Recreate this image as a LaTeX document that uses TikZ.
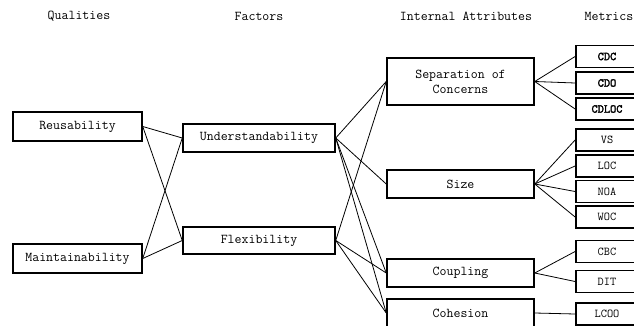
\documentclass[tikz,border=0pt]{standalone}
\usepackage{fontspec}
\newfontfamily\mtbold[FakeBold=2.5]{Latin Modern Mono}
\begin{document}
\begin{tikzpicture}[x=1pt,y=-1pt,
  box/.style={draw,line width=1.5pt,inner sep=0pt,font=\ttfamily\fontsize{13.5}{15}\selectfont,align=center},
  mbox/.style={draw,line width=1.8pt,inner sep=0pt,minimum width=62pt,minimum height=22pt,font=\ttfamily\fontsize{12}{13}\selectfont},
  mboxb/.style={mbox,font=\mtbold\fontsize{12}{13}\selectfont},
  head/.style={font=\ttfamily\fontsize{13.5}{15}\selectfont},
  link/.style={line width=0.8pt}]
\useasboundingbox (0,0) rectangle (634,326);
% headers
\node[head] (hq) at (79,16) {Qualities};
\node[head] (hf) at (259,16) {Factors};
\node[head] (hi) at (466,16) {Internal Attributes};
\node[head] (hm) at (609,16) {Metrics};
% qualities
\node[box,minimum width=129pt,minimum height=29pt] (reu) at (77.5,126.5) {Reusability};
\node[box,minimum width=129pt,minimum height=29pt] (mai) at (77.5,258.5) {Maintainability};
% factors
\node[box,minimum width=152pt,minimum height=28pt] (und) at (259,138) {Understandability};
\node[box,minimum width=152pt,minimum height=27pt] (fle) at (259,240.5) {Flexibility};
% attributes
\node[box,minimum width=147pt,minimum height=47pt] (soc) at (460.5,81.5) {Separation of\\Concerns};
\node[box,minimum width=147pt,minimum height=28pt] (siz) at (460.5,184) {Size};
\node[box,minimum width=147pt,minimum height=28pt] (cou) at (460.5,273) {Coupling};
\node[box,minimum width=147pt,minimum height=28pt] (coh) at (460.5,313) {Cohesion};
% metrics
\node[mboxb] (cdc) at (607,56.5) {CDC};
\node[mboxb] (cdo) at (607,83) {CDO};
\node[mboxb] (cdloc) at (607,109) {CDLOC};
\node[mbox] (vs) at (607,140) {VS};
\node[mbox] (loc) at (607,166) {LOC};
\node[mbox] (noa) at (607,191.5) {NOA};
\node[mbox] (woc) at (607,217) {WOC};
\node[mbox] (cbc) at (607,251.5) {CBC};
\node[mbox] (dit) at (607,281.5) {DIT};
\node[mbox] (lcoo) at (607,314) {LCOO};
% links qualities -> factors
\draw[link] (reu.east) -- (und.west);
\draw[link] (reu.east) -- (fle.west);
\draw[link] (mai.east) -- (und.west);
\draw[link] (mai.east) -- (fle.west);
% factors -> attributes
\draw[link] (und.east) -- (soc.west);
\draw[link] (und.east) -- (siz.west);
\draw[link] (und.east) -- (cou.west);
\draw[link] (und.east) -- (coh.west);
\draw[link] (fle.east) -- (soc.west);
\draw[link] (fle.east) -- (cou.west);
\draw[link] (fle.east) -- (coh.west);
% attributes -> metrics
\draw[link] (soc.east) -- (cdc.west);
\draw[link] (soc.east) -- (cdo.west);
\draw[link] (soc.east) -- (cdloc.west);
\draw[link] (siz.east) -- (vs.west);
\draw[link] (siz.east) -- (loc.west);
\draw[link] (siz.east) -- (noa.west);
\draw[link] (siz.east) -- (woc.west);
\draw[link] (cou.east) -- (cbc.west);
\draw[link] (cou.east) -- (dit.west);
\draw[link] (coh.east) -- (lcoo.west);
\end{tikzpicture}
\end{document}
